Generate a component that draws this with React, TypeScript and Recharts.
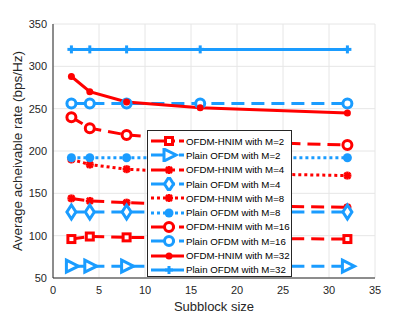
import React from "react";
import { CartesianGrid, Line, LineChart, XAxis, YAxis } from "recharts";

const RED = "#ff0000";
const BLUE = "#1a9cff";
const AXIS = "#262626";
const FONT = "'Liberation Sans', Arial, sans-serif";

// subblock sizes and rates (bps/Hz)
const subblockSizes = [2, 4, 8, 16, 32];
const hnimM2 = [96, 99, 98, 97, 96];
const plainM2 = [64, 64, 64, 64, 64];
const hnimM4 = [144, 141, 139, 136, 133.5];
const plainM4 = [128, 128, 128, 128, 128];
const hnimM8 = [190, 184, 178.5, 174, 171];
const plainM8 = [192, 192, 192, 192, 192];
const hnimM16 = [240, 227, 219, 212, 207];
const plainM16 = [256, 256, 256, 256, 256];
const hnimM32 = [288, 270, 258, 251, 245];
const plainM32 = [320, 320, 320, 320, 320];

const xTicks = [0, 5, 10, 15, 20, 25, 30, 35];
const yTicks = [50, 100, 150, 200, 250, 300, 350];

type MarkerKind = "square" | "triangle" | "star" | "diamond" | "dot" | "circle" | "smalldot" | "plus";

interface SeriesDef {
  key: string;
  name: string;
  values: number[];
  color: string;
  dash?: string;
  marker: MarkerKind;
}

const SERIES: SeriesDef[] = [
  { key: "hnim2", name: "OFDM-HNIM with M=2", values: hnimM2, color: RED, dash: "13 7", marker: "square" },
  { key: "plain2", name: "Plain OFDM with M=2", values: plainM2, color: BLUE, dash: "13 7", marker: "triangle" },
  { key: "hnim4", name: "OFDM-HNIM with M=4", values: hnimM4, color: RED, dash: "13 7", marker: "star" },
  { key: "plain4", name: "Plain OFDM with M=4", values: plainM4, color: BLUE, dash: "13 7", marker: "diamond" },
  { key: "hnim8", name: "OFDM-HNIM with M=8", values: hnimM8, color: RED, dash: "3 3", marker: "star" },
  { key: "plain8", name: "Plain OFDM with M=8", values: plainM8, color: BLUE, dash: "3 3", marker: "dot" },
  { key: "hnim16", name: "OFDM-HNIM with M=16", values: hnimM16, color: RED, dash: "13 7", marker: "circle" },
  { key: "plain16", name: "Plain OFDM with M=16", values: plainM16, color: BLUE, dash: "13 7", marker: "circle" },
  { key: "hnim32", name: "OFDM-HNIM with M=32", values: hnimM32, color: RED, marker: "smalldot" },
  { key: "plain32", name: "Plain OFDM with M=32", values: plainM32, color: BLUE, marker: "plus" },
];

const data = subblockSizes.map((x, i) => {
  const row: Record<string, number> = { x };
  SERIES.forEach((s) => {
    row[s.key] = s.values[i];
  });
  return row;
});

function Marker({ kind, cx, cy, color }: { kind: MarkerKind; cx: number; cy: number; color: string }) {
  switch (kind) {
    case "square":
      return <rect x={cx - 3.5} y={cy - 3.5} width={7} height={7} fill="#fff" stroke={color} strokeWidth={3} />;
    case "triangle":
      return (
        <polygon
          points={`${cx - 5},${cy - 6} ${cx + 7},${cy} ${cx - 5},${cy + 6}`}
          fill="#fff"
          stroke={color}
          strokeWidth={3}
        />
      );
    case "star":
      return (
        <g stroke={color} strokeWidth={2.5}>
          <line x1={cx - 4} y1={cy} x2={cx + 4} y2={cy} />
          <line x1={cx} y1={cy - 4} x2={cx} y2={cy + 4} />
          <line x1={cx - 3} y1={cy - 3} x2={cx + 3} y2={cy + 3} />
          <line x1={cx - 3} y1={cy + 3} x2={cx + 3} y2={cy - 3} />
        </g>
      );
    case "diamond":
      return (
        <polygon
          points={`${cx},${cy - 7} ${cx + 4.5},${cy} ${cx},${cy + 7} ${cx - 4.5},${cy}`}
          fill="#fff"
          stroke={color}
          strokeWidth={3}
        />
      );
    case "dot":
      return <circle cx={cx} cy={cy} r={4.5} fill={color} />;
    case "circle":
      return <circle cx={cx} cy={cy} r={4.5} fill="#fff" stroke={color} strokeWidth={3} />;
    case "smalldot":
      return <circle cx={cx} cy={cy} r={3.5} fill={color} />;
    case "plus":
      return (
        <g stroke={color} strokeWidth={3}>
          <line x1={cx - 4} y1={cy} x2={cx + 4} y2={cy} />
          <line x1={cx} y1={cy - 4} x2={cx} y2={cy + 4} />
        </g>
      );
  }
  return null;
}

function LegendBox() {
  return (
    <div
      style={{
        position: "absolute",
        left: 147,
        top: 130,
        width: 145,
        height: 147,
        background: "#fff",
        border: `1px solid ${AXIS}`,
        boxSizing: "border-box",
        paddingTop: 3,
      }}
    >
      {SERIES.map((s) => (
        <div key={s.key} style={{ display: "flex", alignItems: "center", height: 14.3 }}>
          <svg width={38} height={14} style={{ flex: "none" }}>
            <line
              x1={3}
              y1={7}
              x2={36}
              y2={7}
              stroke={s.color}
              strokeWidth={3}
              strokeDasharray={s.dash ? (s.dash === "3 3" ? "3 3" : "24 4") : undefined}
            />
            <Marker kind={s.marker} cx={21} cy={7} color={s.color} />
          </svg>
          <span style={{ fontSize: 9.7, color: "#000", whiteSpace: "nowrap", fontFamily: FONT }}>{s.name}</span>
        </div>
      ))}
    </div>
  );
}

export default function App() {
  return (
    <div style={{ position: "absolute", left: 0, top: 0, width: 415, height: 319, background: "#fff", fontFamily: FONT }}>
      <LineChart width={415} height={319} data={data} margin={{ top: 24, right: 40, bottom: 11, left: 0 }}>
        <CartesianGrid stroke="#e6e6e6" strokeWidth={1} />
        <XAxis
          dataKey="x"
          type="number"
          domain={[0, 35]}
          ticks={xTicks}
          height={30}
          tickLine={false}
          axisLine={{ stroke: AXIS }}
          tick={{ fontSize: 11, fill: AXIS, fontFamily: FONT }}
          label={{ value: "Subblock size", position: "insideBottom", offset: -3, fontSize: 13, fill: AXIS, fontFamily: FONT }}
        />
        <XAxis xAxisId="top" dataKey="x" type="number" domain={[0, 35]} ticks={xTicks} orientation="top" mirror height={0} tick={false} tickSize={3} axisLine={{ stroke: AXIS }} tickLine={{ stroke: AXIS }} />
        <XAxis xAxisId="bm" dataKey="x" type="number" domain={[0, 35]} ticks={xTicks} orientation="bottom" mirror height={0} tick={false} tickSize={3} axisLine={false} tickLine={{ stroke: AXIS }} />
        <YAxis
          type="number"
          domain={[50, 350]}
          ticks={yTicks}
          width={53}
          tickLine={false}
          tickSize={4}
          tickMargin={2}
          axisLine={{ stroke: AXIS }}
          tick={{ fontSize: 11, fill: AXIS, fontFamily: FONT }}
          label={{ value: "Average acheivable rate (bps/Hz)", angle: -90, position: "insideLeft", offset: 17, fontSize: 13.5, fill: AXIS, fontFamily: FONT, style: { textAnchor: "middle" } }}
        />
        <YAxis yAxisId="right" type="number" domain={[50, 350]} ticks={yTicks} orientation="right" mirror width={0} tick={false} tickSize={3} axisLine={{ stroke: AXIS }} tickLine={{ stroke: AXIS }} />
        <YAxis yAxisId="lm" type="number" domain={[50, 350]} ticks={yTicks} orientation="left" mirror width={0} tick={false} tickSize={3} axisLine={false} tickLine={{ stroke: AXIS }} />
        {SERIES.map((s) => (
          <Line
            key={s.key}
            dataKey={s.key}
            name={s.name}
            type="linear"
            stroke={s.color}
            strokeWidth={3}
            strokeDasharray={s.dash}
            isAnimationActive={false}
            dot={(p: any) => (
              <g key={`${s.key}-${p.index}`}>
                <Marker kind={s.marker} cx={p.cx} cy={p.cy} color={s.color} />
              </g>
            )}
            activeDot={false}
          />
        ))}
      </LineChart>
      <LegendBox />
    </div>
  );
}
